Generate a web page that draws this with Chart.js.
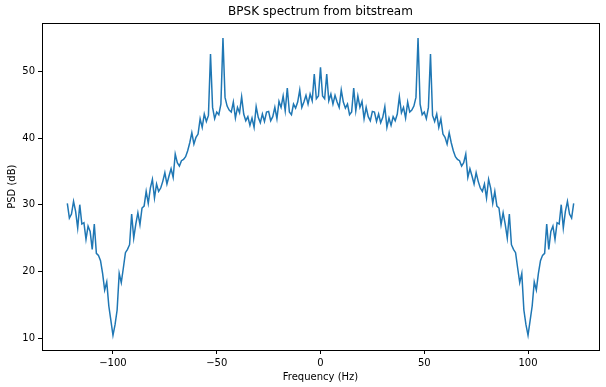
<!DOCTYPE html>
<html>
<head>
<meta charset="utf-8">
<script src="https://cdn.jsdelivr.net/npm/chart.js@4.4.1/dist/chart.umd.min.js"></script>
<style>
  body { margin: 0; background: #fff; }
  canvas { display: block; }
</style>
</head>
<body>
<canvas id="psd" width="606" height="387"></canvas>
<script>
var freqs = [
  -122, -121, -120, -119, -118, -117, -116, -115, -114, -113,
  -112, -111, -110, -109, -108, -107, -106, -105, -104, -103,
  -102, -101, -100, -99, -98, -97, -96, -95, -94, -93,
  -92, -91, -90, -89, -88, -87, -86, -85, -84, -83,
  -82, -81, -80, -79, -78, -77, -76, -75, -74, -73,
  -72, -71, -70, -69, -68, -67, -66, -65, -64, -63,
  -62, -61, -60, -59, -58, -57, -56, -55, -54, -53,
  -52, -51, -50, -49, -48, -47, -46, -45, -44, -43,
  -42, -41, -40, -39, -38, -37, -36, -35, -34, -33,
  -32, -31, -30, -29, -28, -27, -26, -25, -24, -23,
  -22, -21, -20, -19, -18, -17, -16, -15, -14, -13,
  -12, -11, -10, -9, -8, -7, -6, -5, -4, -3,
  -2, -1, 0,
  1, 2, 3, 4, 5, 6, 7, 8, 9, 10,
  11, 12, 13, 14, 15, 16, 17, 18, 19, 20,
  21, 22, 23, 24, 25, 26, 27, 28, 29, 30,
  31, 32, 33, 34, 35, 36, 37, 38, 39, 40,
  41, 42, 43, 44, 45, 46, 47, 48, 49, 50,
  51, 52, 53, 54, 55, 56, 57, 58, 59, 60,
  61, 62, 63, 64, 65, 66, 67, 68, 69, 70,
  71, 72, 73, 74, 75, 76, 77, 78, 79, 80,
  81, 82, 83, 84, 85, 86, 87, 88, 89, 90,
  91, 92, 93, 94, 95, 96, 97, 98, 99, 100,
  101, 102, 103, 104, 105, 106, 107, 108, 109, 110,
  111, 112, 113, 114, 115, 116, 117, 118, 119, 120,
  121, 122
];

// PSD in dB
var psd = [
  30.2, 28.0, 28.6, 30.5, 29.0, 26.5, 30.0, 27.1, 27.3, 24.8,
  26.8, 26.0, 23.3, 27.1, 22.7, 22.4, 21.6, 19.7, 17.2, 18.4,
  14.8, 12.6, 10.4, 12.0, 14.2, 19.7, 18.3, 20.5, 22.8, 23.3,
  24.0, 28.6, 25.0, 27.1, 28.8, 27.0, 29.5, 29.8, 32.0, 30.2,
  32.5, 33.8, 31.0, 33.1, 32.0, 32.5, 33.5, 34.8, 33.1, 34.3,
  35.4, 34.1, 37.6, 36.3, 35.8, 36.6, 36.8, 37.2, 38.1, 39.3,
  40.8, 39.1, 40.1, 40.6, 42.9, 41.6, 43.6, 42.5, 43.4, 52.6,
  44.6, 42.9, 43.9, 43.5, 45.1, 55.0, 46.1, 44.8, 44.2, 43.9,
  45.4, 43.0, 44.6, 43.8, 46.2, 43.6, 42.6, 43.2, 41.9, 43.0,
  41.6, 44.7, 43.1, 42.3, 43.6, 42.5, 43.9, 44.0, 42.6, 43.2,
  44.6, 42.9, 45.5, 44.6, 46.3, 44.1, 47.5, 43.9, 43.5, 45.1,
  44.5, 45.4, 47.2, 44.6, 45.4, 46.4, 45.1, 46.6, 45.6, 49.6,
  45.9, 46.3, 50.6,
  46.3, 45.9, 49.6, 45.6, 46.6, 45.1, 46.4, 45.4, 44.6, 47.2,
  45.4, 44.5, 45.1, 43.5, 43.9, 47.5, 44.1, 46.3, 44.6, 45.5,
  42.9, 44.6, 43.2, 42.6, 44.0, 43.9, 42.5, 43.6, 42.3, 43.1,
  44.7, 41.6, 43.0, 41.9, 43.2, 42.6, 43.6, 46.2, 43.8, 44.6,
  43.0, 45.4, 43.9, 44.2, 44.8, 46.1, 55.0, 45.1, 43.5, 43.9,
  42.9, 44.6, 52.6, 43.4, 42.5, 43.6, 41.6, 42.9, 40.6, 40.1,
  39.1, 40.8, 39.3, 38.1, 37.2, 36.8, 36.6, 35.8, 36.3, 37.6,
  34.1, 35.4, 34.3, 33.1, 34.8, 33.5, 32.5, 32.0, 33.1, 31.0,
  33.8, 32.5, 30.2, 32.0, 29.8, 29.5, 27.0, 28.8, 27.1, 25.0,
  28.6, 24.0, 23.3, 22.8, 20.5, 18.3, 19.7, 14.2, 12.0, 10.4,
  12.6, 14.8, 18.4, 17.2, 19.7, 21.6, 22.4, 22.7, 27.1, 23.3,
  26.0, 26.8, 24.8, 27.3, 27.1, 30.0, 26.5, 29.0, 30.5, 28.6,
  28.0, 30.2
];

var xTicks = [-100, -50, 0, 50, 100];
var yTicks = [10, 20, 30, 40, 50];

var points = freqs.map(function (f, i) { return { x: f, y: psd[i] }; });

var FONT = "'DejaVu Sans', sans-serif";

function mpl(v) {
  return v < 0 ? "\u2212" + Math.abs(v) : String(v);
}

// matplotlib-style box around the axes
var frame = {
  id: "frame",
  afterDraw: function (chart) {
    var a = chart.chartArea, ctx = chart.ctx;
    ctx.save();
    ctx.strokeStyle = "#000";
    ctx.lineWidth = 1;
    ctx.strokeRect(Math.round(a.left) + 0.5, Math.round(a.top) + 0.5,
      Math.round(a.right - a.left), Math.round(a.bottom - a.top));
    ctx.restore();
  }
};

new Chart(document.getElementById("psd").getContext("2d"), {
  type: "line",
  data: {
    datasets: [{
      data: points,
      borderColor: "#1f77b4",
      borderWidth: 1.5,
      pointRadius: 0,
      tension: 0,
      fill: false
    }]
  },
  options: {
    responsive: false,
    animation: false,
    devicePixelRatio: 1,
    layout: { padding: { left: 0, right: 7, top: 0, bottom: 0 } },
    plugins: {
      legend: { display: false },
      tooltip: { enabled: false },
      title: {
        display: true,
        text: "BPSK spectrum from bitstream",
        fullSize: false,
        color: "#000",
        font: { family: FONT, size: 12, weight: "normal" },
        padding: { top: 5, bottom: 4 }
      }
    },
    scales: {
      x: {
        type: "linear",
        min: -134.2,
        max: 134.2,
        afterBuildTicks: function (s) { s.ticks = xTicks.map(function (v) { return { value: v }; }); },
        afterFit: function (s) { s.height = 37; },
        grid: { drawOnChartArea: false, drawTicks: true, tickLength: 4, tickColor: "#000" },
        border: { display: true, color: "#000" },
        ticks: {
          color: "#000", padding: 3, maxRotation: 0, autoSkip: false,
          font: { family: FONT, size: 10 },
          callback: function (v) { return mpl(v); }
        },
        title: {
          display: true, text: "Frequency (Hz)", color: "#000",
          font: { family: FONT, size: 10 },
          padding: { top: 0, bottom: 4 }
        }
      },
      y: {
        min: 8.2,
        max: 57.2,
        afterBuildTicks: function (s) { s.ticks = yTicks.map(function (v) { return { value: v }; }); },
        afterFit: function (s) { s.width = 42; },
        grid: { drawOnChartArea: false, drawTicks: true, tickLength: 4, tickColor: "#000" },
        border: { display: true, color: "#000" },
        ticks: {
          color: "#000", padding: 3, autoSkip: false,
          font: { family: FONT, size: 10 },
          callback: function (v) { return mpl(v); }
        },
        title: {
          display: true, text: "PSD (dB)", color: "#000",
          font: { family: FONT, size: 10 },
          padding: { top: 6, bottom: 0 }
        }
      }
    }
  },
  plugins: [frame]
});
</script>
</body>
</html>
